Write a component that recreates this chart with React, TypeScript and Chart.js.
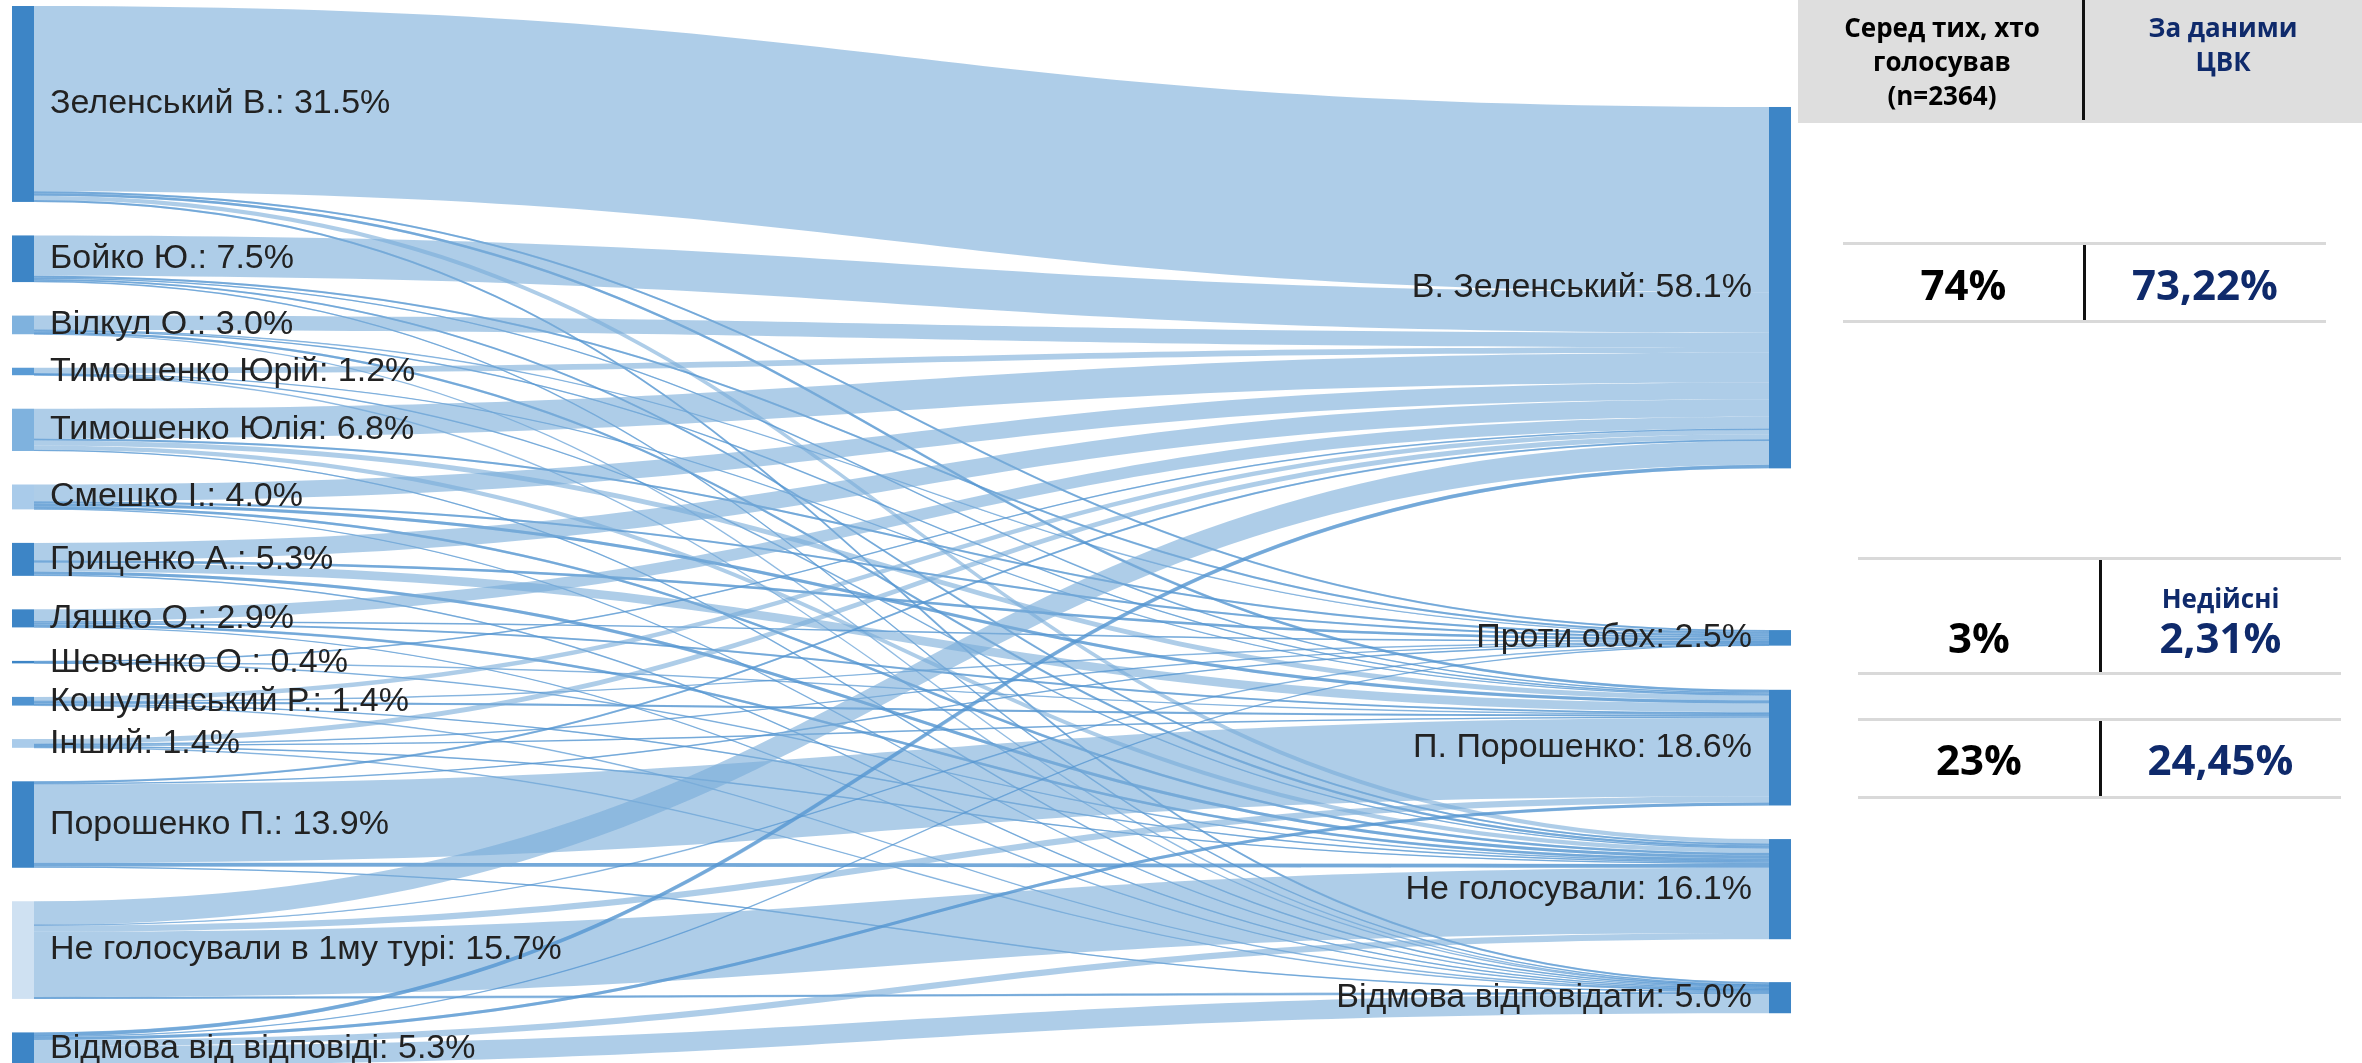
import React, { useEffect, useRef } from "react";
import { Chart, registerables } from "chart.js";

Chart.register(...registerables);

// ---------- DATA ----------
const sourceNames = [
  "Зеленський В.",
  "Бойко Ю.",
  "Вілкул О.",
  "Тимошенко Юрій",
  "Тимошенко Юлія",
  "Смешко І.",
  "Гриценко А.",
  "Ляшко О.",
  "Шевченко О.",
  "Кошулинський Р.",
  "Інший",
  "Порошенко П.",
  "Не голосували в 1му турі",
  "Відмова від відповіді",
];
const sourceShares = ["31.5%", "7.5%", "3.0%", "1.2%", "6.8%", "4.0%", "5.3%", "2.9%", "0.4%", "1.4%", "1.4%", "13.9%", "15.7%", "5.3%"];

const targetNames = ["В. Зеленський", "Проти обох", "П. Порошенко", "Не голосували", "Відмова відповідати"];
const targetShares = ["58.1%", "2.5%", "18.6%", "16.1%", "5.0%"];

// flows from each first-round answer to [Зеленський, Проти обох, Порошенко, Не голосували, Відмова]
const fromZelenskyi = [29.8, 0.3, 0.4, 0.7, 0.3];
const fromBoiko = [6.5, 0.3, 0.2, 0.3, 0.2];
const fromVilkul = [2.3, 0.1, 0.2, 0.35, 0.05];
const fromTymYurii = [0.9, 0, 0.1, 0.15, 0.05];
const fromTymYuliia = [4.8, 0.3, 0.8, 0.7, 0.2];
const fromSmeshko = [2.7, 0.3, 0.5, 0.4, 0.1];
const fromHrytsenko = [2.8, 0.4, 1.4, 0.5, 0.2];
const fromLiashko = [1.9, 0.2, 0.3, 0.4, 0.1];
const fromShevchenko = [0.2, 0, 0.1, 0.1, 0];
const fromKoshulynskyi = [0.7, 0.1, 0.3, 0.2, 0.1];
const fromOther = [0.8, 0.1, 0.2, 0.2, 0.1];
const fromPoroshenko = [0.3, 0.2, 12.6, 0.6, 0.2];
const fromNonVoters = [3.8, 0.1, 1.0, 10.5, 0.3];
const fromRefused = [0.6, 0.1, 0.5, 1.0, 3.1];

const flowRows = [
  fromZelenskyi, fromBoiko, fromVilkul, fromTymYurii, fromTymYuliia, fromSmeshko, fromHrytsenko,
  fromLiashko, fromShevchenko, fromKoshulynskyi, fromOther, fromPoroshenko, fromNonVoters, fromRefused,
];

// table
const headerSurvey = ["Серед тих, хто", "голосував", "(n=2364)"];
const headerCvk = ["За даними", "ЦВК"];
const surveyValues = ["74%", "3%", "23%"];
const cvkValues = ["73,22%", "2,31%", "24,45%"];
const cvkNotes = ["", "Недійсні", ""];

// ---------- LAYOUT / STYLE ----------
const W = 2362;
const H = 1063;
const Y_MAX = H / 6.22; // value units over the canvas height
const LEFT_START = 0.965;
const LEFT_GAP = 5.386;
const RIGHT_TOP = [17.2, 101.3, 110.9, 134.9, 157.9];
const X_MIN = -0.00683;
const X_MAX = 1.3375;
const NODE_W = 22;

const DARK = "#3d85c6";
const leftNodeColors = [
  DARK, DARK, "#7fb2de", "#5a9bd5", "#7fb2de", "#a9cbea", DARK,
  DARK, DARK, "#4f93d0", "#a9cbea", DARK, "#cfe1f2", DARK,
];
const rightNodeColors = [DARK, "#4189c8", DARK, DARK, DARK];

const TABLE_HEADER = { left: 1798, height: 123, dividerX: 2082, firstLineY: 27, lineStep: 34 };
const TABLE_ROWS = [
  { top: 243, bottom: 321, lineLeft: 1843, lineRight: 2326, dividerX: 2084, textY: 284, noteY: 0 },
  { top: 558, bottom: 673, lineLeft: 1858, lineRight: 2341, dividerX: 2100, textY: 637, noteY: 598 },
  { top: 719, bottom: 797, lineLeft: 1858, lineRight: 2341, dividerX: 2100, textY: 759, noteY: 0 },
];
const NAVY = "#0f2a6b";
const TABLE_FONT = '"Open Sans", "Noto Sans", sans-serif';

const sankeyPlugin = {
  id: "sankeyFlows",
  afterDatasetsDraw(chart: any) {
    const ctx: CanvasRenderingContext2D = chart.ctx;
    const xs = chart.scales.x;
    const ys = chart.scales.y;
    const srcTotals = flowRows.map((r) => r.reduce((a, b) => a + b, 0));
    const tgtTotals = targetNames.map((_, j) => flowRows.reduce((a, r) => a + r[j], 0));
    const srcTop: number[] = [];
    let acc = LEFT_START;
    srcTotals.forEach((v) => {
      srcTop.push(acc);
      acc += v + LEFT_GAP;
    });
    const tgtTop = RIGHT_TOP.slice();
    const xL = xs.getPixelForValue(0);
    const xR = xs.getPixelForValue(1);
    const x0 = xL + NODE_W;
    const x1 = xR;
    const xm = (x0 + x1) / 2;
    const sOff = srcTop.slice();
    const tOff = tgtTop.slice();
    const links: any[] = [];
    flowRows.forEach((row, i) => {
      row.forEach((v, j) => {
        if (v <= 0) return;
        links.push({ sy0: sOff[i], sy1: sOff[i] + v, ty0: tOff[j], ty1: tOff[j] + v });
        sOff[i] += v;
        tOff[j] += v;
      });
    });
    ctx.save();
    // link bands
    links.forEach((l) => {
      const a = ys.getPixelForValue(l.sy0);
      const b = ys.getPixelForValue(l.sy1);
      const c = ys.getPixelForValue(l.ty0);
      const d = ys.getPixelForValue(l.ty1);
      ctx.beginPath();
      ctx.moveTo(x0, a);
      ctx.bezierCurveTo(xm, a, xm, c, x1, c);
      ctx.lineTo(x1, d);
      ctx.bezierCurveTo(xm, d, xm, b, x0, b);
      ctx.closePath();
      ctx.fillStyle = "rgba(120,172,216,0.6)";
      ctx.fill();
      const h = b - a;
      if (h < 4) {
        const s = (a + b) / 2;
        const t = (c + d) / 2;
        ctx.beginPath();
        ctx.moveTo(x0, s);
        ctx.bezierCurveTo(xm, s, xm, t, x1, t);
        ctx.lineWidth = Math.max(1.4, h);
        ctx.strokeStyle = "rgba(70,140,205,0.55)";
        ctx.stroke();
      }
    });
    // nodes
    srcTotals.forEach((v, i) => {
      const t = ys.getPixelForValue(srcTop[i]);
      const btm = ys.getPixelForValue(srcTop[i] + v);
      ctx.fillStyle = leftNodeColors[i];
      ctx.fillRect(xL, t, NODE_W, Math.max(1.5, btm - t));
    });
    tgtTotals.forEach((v, j) => {
      const t = ys.getPixelForValue(tgtTop[j]);
      const btm = ys.getPixelForValue(tgtTop[j] + v);
      ctx.fillStyle = rightNodeColors[j];
      ctx.fillRect(xR, t, NODE_W, btm - t);
    });
    // labels
    ctx.font = '34px "Liberation Sans", Arial, sans-serif';
    ctx.fillStyle = "#222";
    ctx.textBaseline = "middle";
    ctx.textAlign = "left";
    srcTotals.forEach((v, i) => {
      const cy = ys.getPixelForValue(srcTop[i] + v / 2);
      ctx.fillText(`${sourceNames[i]}: ${sourceShares[i]}`, xL + 38, cy);
    });
    ctx.textAlign = "right";
    tgtTotals.forEach((v, j) => {
      const cy = ys.getPixelForValue(tgtTop[j] + v / 2);
      ctx.fillText(`${targetNames[j]}: ${targetShares[j]}`, xR - 17, cy);
    });
    ctx.restore();
  },
};

function TextBox(props: { cx: number; cy: number; text: string; size: number; color: string }) {
  const w = 300;
  const lh = props.size * 1.4;
  return (
    <div
      style={{
        position: "absolute",
        left: props.cx - w / 2,
        top: props.cy - lh / 2,
        width: w,
        height: lh,
        lineHeight: `${lh}px`,
        textAlign: "center",
        fontFamily: TABLE_FONT,
        fontWeight: 700,
        fontSize: props.size,
        color: props.color,
        whiteSpace: "nowrap",
      }}
    >
      {props.text}
    </div>
  );
}

export default function App() {
  const ref = useRef<HTMLCanvasElement | null>(null);

  useEffect(() => {
    if (!ref.current) return;
    const points = sourceNames.map((_, i) => ({ x: 0, y: i }));
    const chart = new Chart(ref.current, {
      type: "scatter",
      data: { datasets: [{ data: points, pointRadius: 0, showLine: false }] },
      options: {
        animation: false,
        responsive: false,
        maintainAspectRatio: false,
        layout: { padding: 0 },
        plugins: { legend: { display: false }, tooltip: { enabled: false } },
        scales: {
          x: { type: "linear", display: false, min: X_MIN, max: X_MAX },
          y: { type: "linear", display: false, reverse: true, min: 0, max: Y_MAX },
        },
      },
      plugins: [sankeyPlugin],
    } as any);
    return () => chart.destroy();
  }, []);

  const hdrLeftCx = (TABLE_HEADER.left + TABLE_HEADER.dividerX) / 2 + 2;
  const hdrRightCx = (TABLE_HEADER.dividerX + W) / 2 + 1;

  return (
    <div style={{ position: "fixed", left: 0, top: 0, width: W, height: H, background: "#fff", overflow: "hidden" }}>
      <canvas ref={ref} width={W} height={H} style={{ position: "absolute", left: 0, top: 0, width: W, height: H }} />
      {/* header */}
      <div style={{ position: "absolute", left: TABLE_HEADER.left, top: 0, width: W - TABLE_HEADER.left, height: TABLE_HEADER.height, background: "#dedede" }} />
      <div style={{ position: "absolute", left: TABLE_HEADER.dividerX, top: 0, width: 3, height: TABLE_HEADER.height - 3, background: "#111" }} />
      {headerSurvey.map((t, k) => (
        <TextBox key={"hs" + k} cx={hdrLeftCx} cy={TABLE_HEADER.firstLineY + k * TABLE_HEADER.lineStep} text={t} size={26} color="#000" />
      ))}
      {headerCvk.map((t, k) => (
        <TextBox key={"hc" + k} cx={hdrRightCx} cy={TABLE_HEADER.firstLineY + k * TABLE_HEADER.lineStep} text={t} size={26} color={NAVY} />
      ))}
      {/* rows */}
      {TABLE_ROWS.map((r, k) => (
        <React.Fragment key={"row" + k}>
          <div style={{ position: "absolute", left: r.lineLeft, top: r.top - 1, width: r.lineRight - r.lineLeft, height: 3, background: "#d9d9d9" }} />
          <div style={{ position: "absolute", left: r.lineLeft, top: r.bottom - 1, width: r.lineRight - r.lineLeft, height: 3, background: "#d9d9d9" }} />
          <div style={{ position: "absolute", left: r.dividerX - 1, top: r.top + 2, width: 3, height: r.bottom - r.top - 3, background: "#111" }} />
          <TextBox cx={(r.lineLeft + r.dividerX) / 2} cy={r.textY} text={surveyValues[k]} size={42} color="#000" />
          <TextBox cx={(r.dividerX + r.lineRight) / 2} cy={r.textY} text={cvkValues[k]} size={42} color={NAVY} />
          {cvkNotes[k] ? (
            <TextBox cx={(r.dividerX + r.lineRight) / 2} cy={r.noteY} text={cvkNotes[k]} size={26} color={NAVY} />
          ) : null}
        </React.Fragment>
      ))}
    </div>
  );
}
